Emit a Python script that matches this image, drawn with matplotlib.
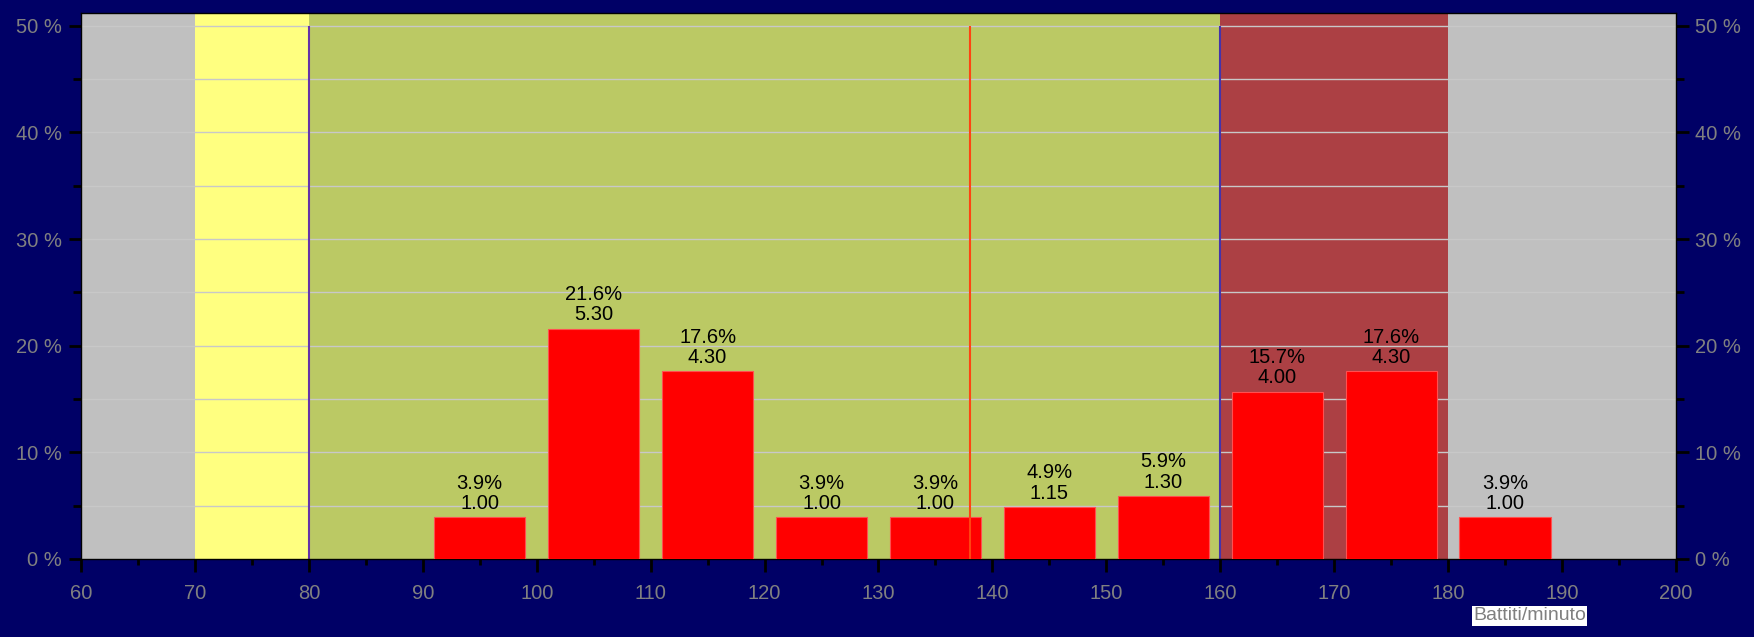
import matplotlib.pyplot as plt
from matplotlib.ticker import MultipleLocator, FuncFormatter

plt.rcParams['font.family'] = ['Liberation Sans', 'DejaVu Sans']

# data
bins = [95, 105, 115, 125, 135, 145, 155, 165, 175, 185]
perc = [3.9, 21.6, 17.6, 3.9, 3.9, 4.9, 5.9, 15.7, 17.6, 3.9]
vals = [1.00, 5.30, 4.30, 1.00, 1.00, 1.15, 1.30, 4.00, 4.30, 1.00]

zones = [(60, 70, '#c0c0c0'), (70, 80, '#ffff80'), (80, 160, '#bbc964'),
         (160, 180, '#ac4044'), (180, 200, '#c0c0c0')]
avg_bpm = 138

fig = plt.figure(figsize=(17.54, 6.37), dpi=100, facecolor='#000066')
ax = fig.add_axes([0.0462, 0.1225, 0.9093, 0.8571])

for a, b, c in zones:
    ax.axvspan(a, b, color=c, zorder=0, lw=0)

for y in range(5, 55, 5):
    ax.axhline(y, color='#c8c8c8', lw=1, zorder=1)

ax.vlines(80, 0, 50, color='#6633aa', lw=1.5, zorder=2)
ax.vlines(160, 0, 50, color='#4433aa', lw=1.5, zorder=2)
ax.vlines(avg_bpm, 0, 50, color='#ff4411', lw=1.5, zorder=4)

ax.bar(bins, perc, width=8, color='#ff0000', edgecolor='#ff5050', lw=0.8, zorder=3)
for x, p, v in zip(bins, perc, vals):
    ax.annotate(f"{p:.1f}%\n{v:.2f}", (x, p), xytext=(0, 3), textcoords='offset points',
                ha='center', va='bottom', fontsize=14.5, color='black',
                linespacing=1.1, zorder=5)

ax.set_xlim(60, 200)
ax.set_ylim(0, 51.2)
ax.xaxis.set_major_locator(MultipleLocator(10))
ax.xaxis.set_minor_locator(MultipleLocator(5))
ax.yaxis.set_major_locator(MultipleLocator(10))
ax.yaxis.set_minor_locator(MultipleLocator(5))
ax.yaxis.set_major_formatter(FuncFormatter(lambda v, p: f"{v:.0f} %"))
ax.tick_params(axis='both', which='both', colors='black', labelcolor='#808080',
               labelsize=14.5, direction='out', width=2)
ax.tick_params(axis='x', which='major', length=9, pad=9)
ax.tick_params(axis='x', which='minor', length=4)
ax.tick_params(axis='y', which='major', length=9, pad=5)
ax.tick_params(axis='y', which='minor', length=6)
ax.tick_params(axis='y', right=True, which='both', labelright=True)
for s in ax.spines.values():
    s.set_color('black')
    s.set_linewidth(1)

fig.text(0.872, 0.033, "Battiti/minuto", ha='center', va='center', fontsize=14,
         color='#808080', bbox=dict(facecolor='white', edgecolor='none', pad=1))

fig.savefig('out.png', dpi=100, facecolor=fig.get_facecolor())
